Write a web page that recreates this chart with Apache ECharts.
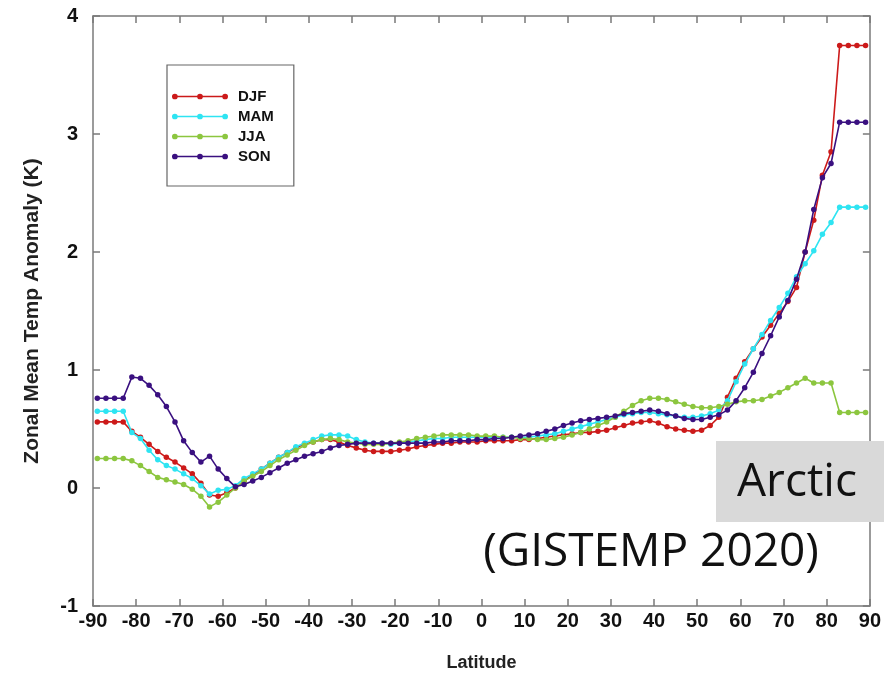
<!DOCTYPE html>
<html>
<head>
<meta charset="utf-8">
<script src="https://cdn.jsdelivr.net/npm/echarts@6/dist/echarts.min.js"></script>
<style>
  html, body { margin: 0; padding: 0; background: #ffffff; }
  #chart { width: 884px; height: 678px; }
</style>
</head>
<body>
<div id="chart"></div>
<script>
// Zonal mean temperature anomaly by latitude, one line per season
const latitudes = [
  -89, -87, -85, -83, -81, -79, -77, -75, -73, -71,
  -69, -67, -65, -63, -61, -59, -57, -55, -53, -51,
  -49, -47, -45, -43, -41, -39, -37, -35, -33, -31,
  -29, -27, -25, -23, -21, -19, -17, -15, -13, -11,
  -9, -7, -5, -3, -1, 1, 3, 5, 7, 9,
  11, 13, 15, 17, 19, 21, 23, 25, 27, 29,
  31, 33, 35, 37, 39, 41, 43, 45, 47, 49,
  51, 53, 55, 57, 59, 61, 63, 65, 67, 69,
  71, 73, 75, 77, 79, 81, 83, 85, 87, 89
];

const djf = [
  0.56, 0.56, 0.56, 0.56, 0.48, 0.43, 0.37, 0.31, 0.26, 0.22,
  0.17, 0.12, 0.04, -0.06, -0.07, -0.04, 0.00, 0.06, 0.11, 0.16,
  0.21, 0.26, 0.30, 0.34, 0.37, 0.39, 0.41, 0.41, 0.39, 0.36,
  0.34, 0.32, 0.31, 0.31, 0.31, 0.32, 0.33, 0.35, 0.36, 0.37,
  0.38, 0.38, 0.39, 0.39, 0.39, 0.40, 0.40, 0.40, 0.40, 0.41,
  0.41, 0.42, 0.43, 0.44, 0.45, 0.46, 0.47, 0.47, 0.48, 0.49,
  0.51, 0.53, 0.55, 0.56, 0.57, 0.55, 0.52, 0.50, 0.49, 0.48,
  0.49, 0.53, 0.60, 0.77, 0.93, 1.07, 1.18, 1.28, 1.38, 1.48,
  1.58, 1.70, 2.00, 2.27, 2.65, 2.85, 3.75, 3.75, 3.75, 3.75
];

const mam = [
  0.65, 0.65, 0.65, 0.65, 0.47, 0.42, 0.32, 0.24, 0.19, 0.16,
  0.12, 0.08, 0.02, -0.05, -0.02, -0.01, 0.02, 0.08, 0.12, 0.16,
  0.21, 0.26, 0.30, 0.35, 0.38, 0.41, 0.44, 0.45, 0.45, 0.44,
  0.41, 0.39, 0.38, 0.38, 0.37, 0.38, 0.39, 0.40, 0.41, 0.42,
  0.42, 0.43, 0.43, 0.43, 0.43, 0.43, 0.43, 0.43, 0.43, 0.43,
  0.43, 0.44, 0.45, 0.46, 0.48, 0.50, 0.52, 0.54, 0.56, 0.58,
  0.60, 0.62, 0.63, 0.64, 0.64, 0.63, 0.62, 0.61, 0.60, 0.60,
  0.61, 0.63, 0.66, 0.74, 0.90, 1.05, 1.18, 1.30, 1.42, 1.53,
  1.65, 1.79, 1.90, 2.01, 2.15, 2.25, 2.38, 2.38, 2.38, 2.38
];

const jja = [
  0.25, 0.25, 0.25, 0.25, 0.23, 0.19, 0.14, 0.09, 0.07, 0.05,
  0.03, -0.01, -0.07, -0.16, -0.12, -0.06, 0.00, 0.06, 0.10, 0.14,
  0.19, 0.24, 0.28, 0.32, 0.36, 0.39, 0.41, 0.42, 0.41, 0.39,
  0.38, 0.37, 0.37, 0.37, 0.38, 0.39, 0.40, 0.42, 0.43, 0.44,
  0.45, 0.45, 0.45, 0.45, 0.44, 0.44, 0.44, 0.43, 0.43, 0.42,
  0.42, 0.41, 0.41, 0.42, 0.43, 0.45, 0.47, 0.50, 0.53, 0.56,
  0.60, 0.65, 0.70, 0.74, 0.76, 0.76, 0.75, 0.73, 0.71, 0.69,
  0.68, 0.68, 0.69, 0.71, 0.73, 0.74, 0.74, 0.75, 0.78, 0.81,
  0.85, 0.89, 0.93, 0.89, 0.89, 0.89, 0.64, 0.64, 0.64, 0.64
];

const son = [
  0.76, 0.76, 0.76, 0.76, 0.94, 0.93, 0.87, 0.79, 0.69, 0.56,
  0.40, 0.30, 0.22, 0.27, 0.16, 0.08, 0.01, 0.03, 0.06, 0.09,
  0.13, 0.17, 0.21, 0.24, 0.27, 0.29, 0.31, 0.34, 0.36, 0.37,
  0.38, 0.38, 0.38, 0.38, 0.38, 0.38, 0.38, 0.38, 0.38, 0.39,
  0.39, 0.40, 0.40, 0.40, 0.41, 0.41, 0.42, 0.42, 0.43, 0.44,
  0.45, 0.46, 0.48, 0.50, 0.53, 0.55, 0.57, 0.58, 0.59, 0.60,
  0.61, 0.63, 0.64, 0.65, 0.66, 0.65, 0.63, 0.61, 0.59, 0.58,
  0.58, 0.60, 0.62, 0.66, 0.74, 0.85, 0.98, 1.14, 1.29, 1.45,
  1.59, 1.77, 2.00, 2.36, 2.63, 2.75, 3.10, 3.10, 3.10, 3.10
];

const seasonNames = ['DJF', 'MAM', 'JJA', 'SON'];
const seasonValues = [djf, mam, jja, son];
const seasonColors = ['#cc1a1a', '#2ee4f2', '#8cc63f', '#3a1080'];

const xTicks = { min: -90, max: 90, step: 10 };
const yTicks = { min: -1, max: 4, step: 1 };

const labelFont = '"Liberation Sans", Arial, sans-serif';

// line with three dots, used as the legend key
const legendKey = 'path://M4,5.2h56v1.6h-56z' +
  'M0.8,6a3.2,3.2 0 1,1 6.4,0a3.2,3.2 0 1,1 -6.4,0z' +
  'M28.8,6a3.2,3.2 0 1,1 6.4,0a3.2,3.2 0 1,1 -6.4,0z' +
  'M56.8,6a3.2,3.2 0 1,1 6.4,0a3.2,3.2 0 1,1 -6.4,0z';

function pairs(values) {
  return latitudes.map((lat, i) => [lat, values[i]]);
}

const frameLine = { show: true, onZero: false, lineStyle: { color: '#7a7a7a', width: 1.5 } };
const innerTick = { show: true, inside: true, length: 7, lineStyle: { color: '#7a7a7a', width: 1.5 } };

const chart = echarts.init(document.getElementById('chart'), null, { renderer: 'canvas' });

chart.setOption({
  animation: false,
  backgroundColor: '#ffffff',
  grid: { left: 93, right: 10, top: 16, bottom: 72 },
  legend: {
    orient: 'vertical',
    left: 167,
    top: 65,
    padding: [24, 20, 22, 5],
    itemGap: 5,
    itemWidth: 56,
    itemHeight: 12,
    icon: legendKey,
    backgroundColor: '#ffffff',
    borderColor: '#666666',
    borderWidth: 1.2,
    textStyle: { fontFamily: labelFont, fontWeight: 'bold', fontSize: 15, color: '#111', padding: [0, 0, 0, 5] },
    data: seasonNames
  },
  xAxis: [
    {
      type: 'value',
      min: xTicks.min, max: xTicks.max, interval: xTicks.step,
      name: 'Latitude',
      nameLocation: 'middle',
      nameGap: 48,
      nameTextStyle: { fontFamily: labelFont, fontWeight: 'bold', fontSize: 18, color: '#222' },
      axisLine: frameLine,
      axisTick: innerTick,
      splitLine: { show: false },
      axisLabel: { margin: 5, fontFamily: labelFont, fontWeight: 'bold', fontSize: 20, color: '#111' }
    },
    {
      type: 'value', position: 'top',
      min: xTicks.min, max: xTicks.max, interval: xTicks.step,
      axisLine: frameLine, axisTick: innerTick,
      splitLine: { show: false }, axisLabel: { show: false }
    }
  ],
  yAxis: [
    {
      type: 'value',
      min: yTicks.min, max: yTicks.max, interval: yTicks.step,
      name: 'Zonal Mean Temp Anomaly (K)',
      nameLocation: 'middle',
      nameGap: 50,
      nameTextStyle: { fontFamily: labelFont, fontWeight: 'bold', fontSize: 21, color: '#222' },
      axisLine: frameLine,
      axisTick: innerTick,
      splitLine: { show: false },
      axisLabel: { margin: 15, fontFamily: labelFont, fontWeight: 'bold', fontSize: 20, color: '#111' }
    },
    {
      type: 'value', position: 'right',
      min: yTicks.min, max: yTicks.max, interval: yTicks.step,
      axisLine: frameLine, axisTick: innerTick,
      splitLine: { show: false }, axisLabel: { show: false }
    }
  ],
  series: seasonNames.map((name, k) => ({
    name: name,
    type: 'line',
    xAxisIndex: 0,
    yAxisIndex: 0,
    data: pairs(seasonValues[k]),
    symbol: 'circle',
    symbolSize: 5.5,
    showSymbol: true,
    lineStyle: { color: seasonColors[k], width: 1.6 },
    itemStyle: { color: seasonColors[k] },
    emphasis: { disabled: true },
    z: 2 + k
  })),
  graphic: [
    {
      type: 'rect', z: 100,
      shape: { x: 716, y: 441, width: 168, height: 81 },
      style: { fill: '#d9d9d9' }
    },
    {
      type: 'text', z: 101,
      x: 797, y: 483,
      style: {
        text: 'Arctic', fill: '#111',
        font: '46px "Open Sans", Lato, sans-serif',
        textAlign: 'center', textVerticalAlign: 'middle'
      }
    },
    {
      type: 'text', z: 101,
      x: 651, y: 553,
      style: {
        text: '(GISTEMP 2020)', fill: '#111',
        font: '46px "Open Sans", Lato, sans-serif',
        textAlign: 'center', textVerticalAlign: 'middle'
      }
    }
  ]
});
</script>
</body>
</html>
